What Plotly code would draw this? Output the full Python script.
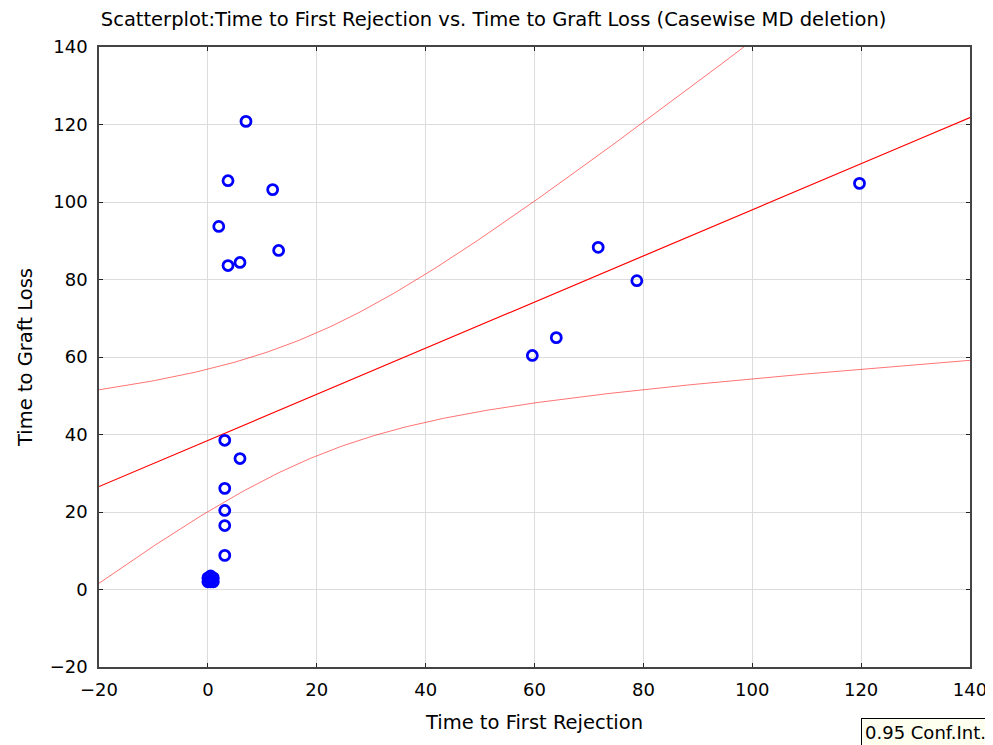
import numpy as np
import plotly.graph_objects as go

# Time to First Rejection (x) and Time to Graft Loss (y)
rejection = [7.0, 3.7, 11.9, 2.0, 13.0, 5.9, 3.7,
             71.7, 78.8, 64.0, 59.6, 119.7,
             3.1, 5.9, 3.1, 3.1, 3.1, 3.1,
             0.0, 0.5, 1.0, 0.0, 1.0, 0.5, 0.5]
graft_loss = [120.8, 105.5, 103.2, 93.7, 87.5, 84.4, 83.6,
              88.3, 79.7, 65.0, 60.4, 104.8,
              38.5, 33.8, 26.1, 20.4, 16.5, 8.8,
              2.0, 2.5, 2.0, 3.0, 3.0, 2.0, 3.5]

x_ticks = [-20, 0, 20, 40, 60, 80, 100, 120, 140]
y_ticks = [-20, 0, 20, 40, 60, 80, 100, 120, 140]

x = np.array(rejection)
y = np.array(graft_loss)
n = len(x)
b, a = np.polyfit(x, y, 1)
resid = y - (a + b * x)
s = np.sqrt(np.sum(resid ** 2) / (n - 2))
sxx = np.sum((x - x.mean()) ** 2)
t = 2.0687  # t(0.975, 23)
xs = np.linspace(-20, 140, 300)
fit = a + b * xs
se = s * np.sqrt(1 / n + (xs - x.mean()) ** 2 / sxx)
upper = fit + t * se
lower = fit - t * se

fig = go.Figure()
fig.add_trace(go.Scatter(x=xs, y=upper, mode="lines",
                         line=dict(color="rgba(255,0,0,0.55)", width=1), showlegend=False))
fig.add_trace(go.Scatter(x=xs, y=lower, mode="lines",
                         line=dict(color="rgba(255,0,0,0.55)", width=1), showlegend=False))
fig.add_trace(go.Scatter(x=xs, y=fit, mode="lines",
                         line=dict(color="#ff0000", width=1.2), showlegend=False))
fig.add_trace(go.Scatter(x=rejection, y=graft_loss, mode="markers",
                         marker=dict(symbol="circle-open", size=10, color="#0000ff",
                                     line=dict(width=2.8, color="#0000ff")),
                         showlegend=False))

font = "DejaVu Sans, Arial, sans-serif"
axis_common = dict(range=[-20, 140], showgrid=True, gridcolor="#dcdcdc", gridwidth=1,
                   zeroline=False, showline=True, linecolor="#444", linewidth=1.5,
                   mirror="ticks", ticks="inside", ticklen=4, tickcolor="#222",
                   tickfont=dict(size=18), ticklabelstandoff=6, automargin=False,
                   ticklabeloverflow="allow")
fig.update_layout(
    width=985, height=737,
    margin=dict(l=91, r=23, t=39, b=78, autoexpand=False),
    paper_bgcolor="white", plot_bgcolor="white",
    font=dict(family=font, color="black", size=18),
    title=dict(text="Scatterplot:Time to First Rejection vs. Time to Graft Loss (Casewise MD deletion)",
               x=0.493, xref="container", xanchor="center",
               y=1 - 4 / 737, yref="container", yanchor="top",
               font=dict(size=19.5, family=font)),
    xaxis=dict(**axis_common, tickvals=x_ticks,
               title=dict(text="Time to First Rejection", font=dict(size=19.5), standoff=16)),
    yaxis=dict(**axis_common, tickvals=y_ticks,
               title=dict(text="Time to Graft Loss", font=dict(size=19.5), standoff=12)),
    annotations=[dict(text="0.95 Conf.Int.", x=1.0, xref="paper", xshift=20, y=-0.083, yref="paper",
                      xanchor="right", yanchor="top", showarrow=False,
                      bgcolor="#fffff0", bordercolor="black", borderwidth=1, borderpad=3,
                      font=dict(size=18, family=font))],
)
fig.write_html("out.html")
